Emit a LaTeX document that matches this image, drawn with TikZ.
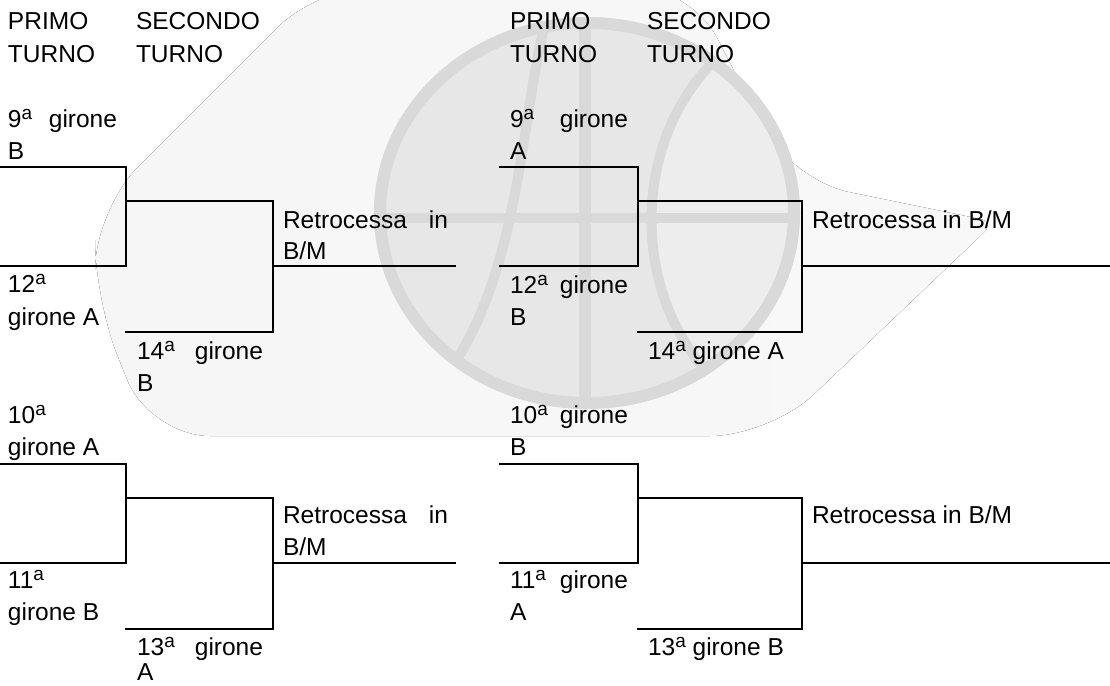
\documentclass[tikz,border=0pt]{standalone}
\usepackage{fontspec}
\setmainfont{Liberation Sans}
% raised small "a" used for the ordinal numbers (9ª, 10ª, ...)
\newcommand\ord{\raisebox{0.31em}{\fontsize{19}{19}\selectfont a}}
\definecolor{wmL}{RGB}{246,246,246}
\definecolor{wmM}{RGB}{238,238,238}
\definecolor{wmR}{RGB}{248,248,248}
\definecolor{wmball}{RGB}{231,231,231}
\definecolor{wmlens}{RGB}{237,237,237}
\definecolor{wmring}{RGB}{217,217,217}
\tikzset{
  rule/.style={line width=2pt, draw=black},
  lbl/.style={anchor=base west, inner sep=0pt, outer sep=0pt,
              font=\fontsize{24.5}{33}\selectfont},
  seam/.style={line width=10pt, draw=wmring},
  % one relegation bracket: two first-round lines joined, then the
  % second-round pairing, then the outgoing line
  pics/bracket/.style n args={3}{code={
    \coordinate (-in1) at (0,0);
    \coordinate (-j1)  at (#1,0);
    \coordinate (-j2)  at (#1,99);
    \coordinate (-in2) at (0,99);
    \coordinate (-s1)  at (#1,34);
    \coordinate (-k1)  at (#1+#2,34);
    \coordinate (-k2)  at (#1+#2,165);
    \coordinate (-s2)  at (#1-1,165);
    \coordinate (-k0)  at (#1+#2,99);
    \coordinate (-out) at (#1+#2+#3,99);
    \draw[rule] (-in1) -- (-j1) -- (-j2) -- (-in2);
    \draw[rule] (-s1) -- (-k1) -- (-k2) -- (-s2);
    \draw[rule] (-k0) -- (-out);
  }}
}
\begin{document}
\begin{tikzpicture}[x=1pt,y=-1pt]
\useasboundingbox (0,0) rectangle (1110,685);

% ---- faint basketball logo in the background ----
\fill[left color=wmL, middle color=wmM, right color=wmR, rounded corners=60pt]
  (320,-15) -- (690,-15) -- (790,180) [rounded corners=15pt] -- (995,222)
  [rounded corners=60pt] -- (770,436)
  -- (150,436) -- (95,300) -- (95,210) -- cycle;
\fill[wmball] (587,213) ellipse [x radius=213pt, y radius=196pt];
\begin{scope}
  \clip (587,213) ellipse [x radius=205pt, y radius=188pt];
  \fill[wmlens] (740,40) .. controls (622,120) and (622,320) .. (740,400)
    -- (820,400) -- (820,40) -- cycle;
  \draw[seam, line width=12pt] (585,0) -- (585,430);
  \draw[seam] (360,218) -- (820,218);
  \draw[seam] (550,5) .. controls (518,110) and (525,290) .. (430,395);
  \draw[seam] (740,40) .. controls (622,120) and (622,320) .. (740,400);
\end{scope}
\draw[line width=12pt, wmring] (587,213) ellipse [x radius=207pt, y radius=190pt];

% ---- brackets ----
\pic (L1) at (0,167)   {bracket={126}{147}{183}};
\pic (L2) at (0,464)   {bracket={126}{147}{183}};
\pic (R1) at (499,167) {bracket={139}{164}{309}};
\pic (R2) at (499,464) {bracket={139}{164}{309}};

% ---- left table ----
\node[lbl] (lh1a) at (8,30)  {PRIMO};
\node[lbl] (lh1b) at (8,63)  {TURNO};
\node[lbl] (lh2a) at (136,30) {SECONDO};
\node[lbl] (lh2b) at (136,63) {TURNO};

\node[lbl] (l9a)  at (8,127) {\makebox[109pt][s]{9\ord\ girone}};
\node[lbl] (l9b)  at (8,159) {B};
\node[lbl] (l12a) at (8,292) {12\ord};
\node[lbl] (l12b) at (8,325) {girone A};
\node[lbl] (l14a) at (137,359) {\makebox[126pt][s]{14\ord\ girone}};
\node[lbl] (l14b) at (137,391) {B};
\node[lbl] (lr1a) at (283,228) {\makebox[165pt][s]{Retrocessa in}};
\node[lbl] (lr1b) at (283,259) {B/M};

\node[lbl] (l10a) at (8,423) {10\ord};
\node[lbl] (l10b) at (8,455) {girone A};
\node[lbl] (l11a) at (8,588) {11\ord};
\node[lbl] (l11b) at (8,620) {girone B};
\node[lbl] (l13a) at (137,655) {\makebox[126pt][s]{13\ord\ girone}};
\node[lbl] (l13b) at (137,680) {A};
\node[lbl] (lr2a) at (283,523) {\makebox[165pt][s]{Retrocessa in}};
\node[lbl] (lr2b) at (283,555) {B/M};

% ---- right table ----
\node[lbl] (rh1a) at (510,30)  {PRIMO};
\node[lbl] (rh1b) at (510,63)  {TURNO};
\node[lbl] (rh2a) at (647,30) {SECONDO};
\node[lbl] (rh2b) at (647,63) {TURNO};

\node[lbl] (r9a)  at (510,127) {\makebox[118pt][s]{9\ord\ girone}};
\node[lbl] (r9b)  at (510,159) {A};
\node[lbl] (r12a) at (510,293) {\makebox[118pt][s]{12\ord\ girone}};
\node[lbl] (r12b) at (510,325) {B};
\node[lbl] (r14)  at (648,359) {14\ord\ girone A};
\node[lbl] (rr1)  at (812,228) {Retrocessa in B/M};

\node[lbl] (r10a) at (510,423) {\makebox[118pt][s]{10\ord\ girone}};
\node[lbl] (r10b) at (510,455) {B};
\node[lbl] (r11a) at (510,588) {\makebox[118pt][s]{11\ord\ girone}};
\node[lbl] (r11b) at (510,620) {A};
\node[lbl] (r13)  at (648,655) {13\ord\ girone B};
\node[lbl] (rr2)  at (812,523) {Retrocessa in B/M};
\end{tikzpicture}
\end{document}
